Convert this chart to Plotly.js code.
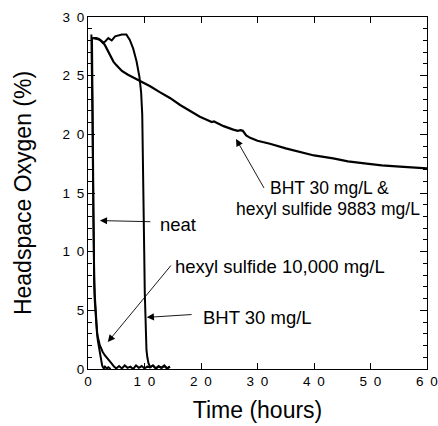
<!DOCTYPE html>
<html>
<head>
<meta charset="utf-8">
<script src="https://cdn.plot.ly/plotly-3.0.1.min.js"></script>
<style>html,body{margin:0;padding:0;background:#fff;}#chart{width:438px;height:426px;}</style>
</head>
<body>
<div id="chart"></div>
<script>
// ---- data ----
var neatTime = [0.6,0.65,0.7,0.75,0.8,0.85,0.9,0.95,1.0,1.1,1.2,1.3,1.45,1.6,1.75,1.9,2.05,2.2,2.35,2.5,2.65,2.8,3.0,3.3,3.6,4.0];
var neatO2   = [28.5,27.2,25.5,23.5,21,18,15,12,9.5,7.2,5.8,4.8,3.8,3.0,2.4,1.9,1.4,1.0,0.6,0.3,0.15,0.05,0.2,0.05,0.15,0];

var hexTime = [0.7,0.75,0.8,0.85,0.9,0.95,1.0,1.1,1.2,1.3,1.45,1.6,1.75,1.9,2.1,2.3,2.6,3.0,3.3,3.7,4.2,4.6,5.0,5.5,6.0,6.5,7.0,7.5,8.0,8.5,9.0,9.5,10.0,10.5,11.0,11.5,12.0,12.5,13.0,13.5,14.0,14.5];
var hexO2   = [28.3,26.5,24,21,17.5,13.5,10,7.8,6.3,5.2,4.1,3.2,2.7,2.3,2.0,1.8,1.45,1.15,0.95,0.7,0.45,0.2,0.05,0.25,0.05,0.3,0.1,0.2,0.0,0.3,0.1,0.25,0.05,0.2,0.15,0.3,0.05,0.2,0.1,0.25,0.05,0.2];

var bhtTime = [0.95,1.5,2.1,2.6,3.0,3.6,4.2,4.8,5.4,6.0,6.8,7.4,8.0,8.6,9.1,9.4,9.6,9.75,9.85,9.95,10.05,10.15,10.25,10.35,10.5,10.7,11.0,11.5,12.0,12.5,13.0,13.5,14.0,14.5];
var bhtO2   = [28.2,28.1,28.05,27.8,27.9,28.2,28.0,28.35,28.4,28.5,28.5,28.05,27.3,26.2,24.9,23.6,21.7,18,14,10,6.5,4.0,2.5,1.6,1.0,0.5,0.15,0.3,0.05,0.25,0.1,0.3,0.05,0.2];

var comboTime = [0.9,1.5,2.0,2.5,3.0,3.5,4.0,4.5,5.0,5.5,6.0,7.0,8.0,9.0,10.0,11.0,12.7,14.5,16.3,18.0,19.8,21.0,21.9,22.3,24.0,25.7,26.5,27.0,27.4,28.0,28.7,30.0,32.2,35.0,37.5,40.0,43.4,46.0,49.3,52.0,55.2,58.0,60.0];
var comboO2   = [28.2,28.2,28.1,27.9,27.6,27.1,26.6,26.2,25.9,25.6,25.4,25.1,24.85,24.6,24.3,24.1,23.6,23.1,22.5,22.0,21.5,21.25,21.05,21.1,20.7,20.4,20.3,20.35,20.3,19.9,19.7,19.45,19.2,18.8,18.5,18.2,17.95,17.7,17.5,17.35,17.25,17.15,17.1];

var xTickVals = [0,10,20,30,40,50,60];
var xTickText = ['0','1\u20020','2\u20020','3\u20020','4\u20020','5\u20020','6\u20020'];
var yTickVals = [0,5,10,15,20,25,30];
var yTickText = ['0','5','1\u20020','1\u20025','2\u20020','2\u20025','3\u20020'];

// labels: [text, x, y] and arrows: [tailX, tailY, headX, headY]
var labelText = ['neat','hexyl sulfide 10,000 mg/L','BHT 30 mg/L','BHT 30 mg/L &','hexyl sulfide 9883 mg/L'];
var labelX    = [12.4, 15.1, 20.0, 31.8, 25.9];
var labelY    = [12.35, 8.7, 4.35, 15.45, 13.65];
var arrowTailX = [11.3, 14.9, 18.6, 31.3];
var arrowTailY = [12.55, 8.95, 4.65, 15.3];
var arrowHeadX = [2.1, 3.5, 10.4, 26.2];
var arrowHeadY = [12.65, 2.3, 4.4, 19.6];

var lineStyle = {color:'#000', width:2};
var traces = [
  {x:neatTime, y:neatO2, mode:'lines', line:lineStyle, name:'neat'},
  {x:hexTime, y:hexO2, mode:'lines', line:lineStyle, name:'hexyl sulfide 10,000 mg/L'},
  {x:bhtTime, y:bhtO2, mode:'lines', line:lineStyle, name:'BHT 30 mg/L'},
  {x:comboTime, y:comboO2, mode:'lines', line:{color:'#000', width:2.2}, name:'BHT + hexyl sulfide'}
];

var font = 'Liberation Sans, Arial, Helvetica, sans-serif';
var annotations = [];
for (var i = 0; i < labelText.length; i++) {
  annotations.push({x:labelX[i], y:labelY[i], xref:'x', yref:'y', text:labelText[i],
    showarrow:false, xanchor:'left', yanchor:'middle', font:{family:font, size:(i >= 3 ? 17.5 : 18.5), color:'#000'}});
}
for (var j = 0; j < arrowTailX.length; j++) {
  annotations.push({x:arrowHeadX[j], y:arrowHeadY[j], xref:'x', yref:'y',
    ax:arrowTailX[j], ay:arrowTailY[j], axref:'x', ayref:'y', text:'',
    showarrow:true, arrowhead:2, arrowsize:1.6, arrowwidth:0.9, arrowcolor:'#000', standoff:0, startstandoff:0});
}

var layout = {
  width:438, height:426,
  margin:{l:88, r:11, t:17, b:57},
  paper_bgcolor:'#fff', plot_bgcolor:'#fff',
  showlegend:false,
  font:{family:font, color:'#000'},
  xaxis:{range:[0,60], tickvals:xTickVals, ticktext:xTickText, ticks:'inside', ticklen:6, tickcolor:'#000',
    showline:true, linecolor:'#000', linewidth:1, mirror:'ticks', showgrid:false, zeroline:false,
    tickfont:{family:font, size:13.5, color:'#000'},
    title:{text:'Time (hours)', font:{family:font, size:23, color:'#000'}, standoff:13}},
  yaxis:{range:[0,30], tickvals:yTickVals, ticktext:yTickText, ticks:'inside', ticklen:7, tickcolor:'#000',
    showline:true, linecolor:'#000', linewidth:1, mirror:'ticks', showgrid:false, zeroline:false,
    minor:{ticks:'inside', ticklen:4, tickmode:'linear', tick0:0, dtick:1, tickcolor:'#000', showgrid:false},
    tickfont:{family:font, size:13.5, color:'#000'},
    title:{text:'Headspace Oxygen (%)', font:{family:font, size:23, color:'#000'}, standoff:24}},
  annotations:annotations
};

Plotly.newPlot('chart', traces, layout, {staticPlot:true, displayModeBar:false});
</script>
</body>
</html>
